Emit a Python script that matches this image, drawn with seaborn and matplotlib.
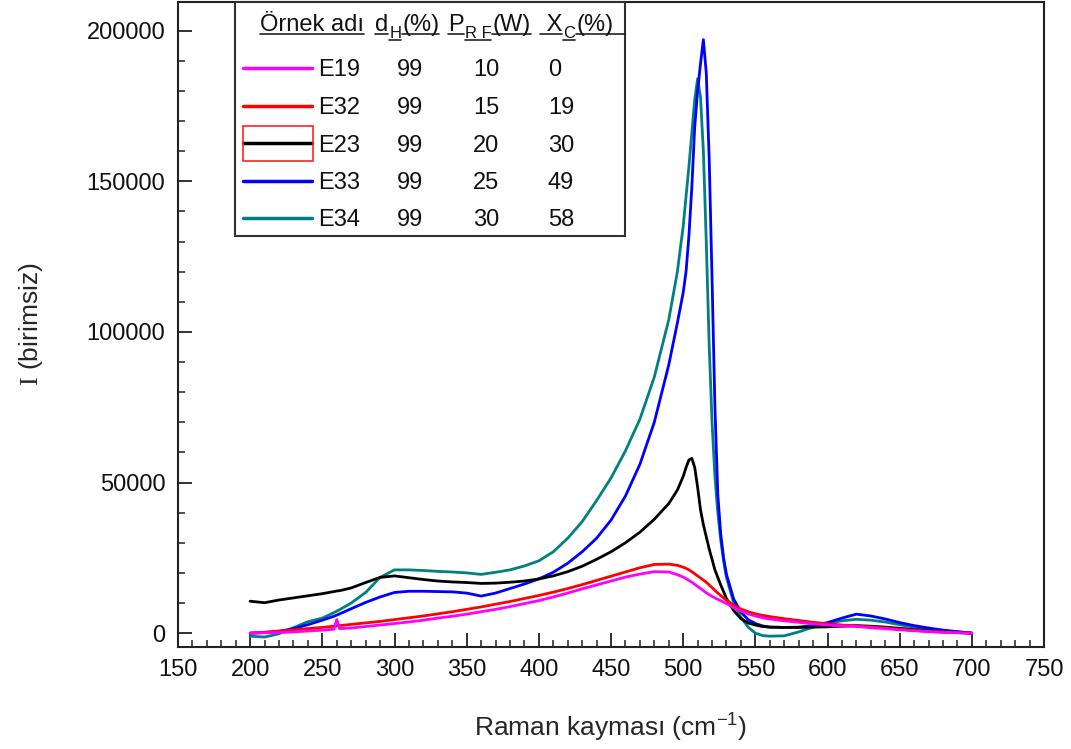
import matplotlib
matplotlib.use("Agg")
import matplotlib.pyplot as plt
import numpy as np
import pandas as pd
import seaborn as sns
from matplotlib.ticker import MultipleLocator, FuncFormatter
from matplotlib.patches import Rectangle
from matplotlib.lines import Line2D

# Raman shift grid (cm^-1) and measured intensities for each sample
wavenumber = [200, 210, 220, 230, 240, 250, 258, 260, 262, 270, 280, 290, 300, 310, 320,
              330, 340, 350, 360, 370, 380, 390, 400, 410, 420, 430, 440, 450, 460, 470,
              480, 490, 496, 500, 502, 504, 506, 508, 510, 512, 514, 516, 518, 520, 522,
              524, 526, 528, 530, 535, 540, 545, 550, 555, 560, 570, 580, 590, 600, 610,
              620, 630, 640, 650, 660, 670, 680, 690, 700]

e19 = [0, 100, 200, 400, 700, 1000, 1300, 4500, 1500, 1700, 2200, 2700, 3200, 3700, 4300,
       5000, 5600, 6300, 7100, 7900, 8800, 9800, 10800, 12000, 13300, 14700, 16000, 17300, 18600, 19600,
       20400, 20300, 19400, 18600, 18100, 17500, 16900, 16200, 15500, 14800, 14100, 13400, 12800, 12200, 11700,
       11200, 10800, 10300, 9800, 8500, 7300, 6400, 5700, 5100, 4700, 4100, 3600, 3100, 2700, 2400,
       2200, 1800, 1500, 1100, 800, 500, 300, 100, 0]

e32 = [0, 300, 700, 1100, 1500, 1900, 2300, 2400, 2500, 2900, 3400, 3900, 4500, 5100, 5700,
       6400, 7100, 7900, 8700, 9600, 10500, 11500, 12500, 13600, 14800, 16100, 17500, 18900, 20300, 21700,
       22800, 22900, 22500, 21900, 21500, 21000, 20400, 19700, 19000, 18300, 17600, 16900, 16000, 15100, 14200,
       13300, 12500, 11700, 10900, 9300, 8000, 7100, 6400, 5900, 5500, 4800, 4200, 3600, 3100, 2700,
       2400, 2100, 1700, 1300, 900, 600, 300, 200, 0]

e23 = [10600, 10100, 11000, 11700, 12400, 13100, 13800, 14000, 14100, 15000, 16800, 18500, 19000, 18400, 17800,
       17300, 17000, 16800, 16500, 16600, 16900, 17300, 18000, 19000, 20400, 22200, 24500, 27000, 30000, 33500,
       37800, 43000, 47500, 52000, 55000, 57500, 58000, 55000, 48500, 41000, 36000, 32000, 28000, 24500, 21000,
       18500, 16000, 13800, 11500, 7500, 4800, 3400, 2700, 2200, 2000, 1900, 1900, 2000, 2100, 2300,
       2500, 2300, 2000, 1600, 1200, 800, 500, 200, 0]

e33 = [0, 200, 600, 1500, 2800, 4300, 5600, 6000, 6400, 8100, 10200, 12000, 13500, 13900, 13900,
       13800, 13700, 13300, 12300, 13300, 14800, 16300, 18000, 20200, 23200, 27000, 31500, 37500, 45500, 56000,
       70000, 89000, 103000, 113000, 120000, 132000, 148000, 168000, 180000, 189000, 197000, 186000, 158000, 118000, 75000,
       46000, 33000, 25000, 19500, 11300, 7000, 4500, 3200, 2400, 2000, 1900, 2000, 2500, 3500, 5000,
       6300, 5700, 4700, 3500, 2500, 1700, 1000, 500, 0]

e34 = [-1000, -1300, -200, 1800, 3800, 5000, 6800, 7300, 7800, 10000, 13500, 18500, 21000, 21000, 20800,
       20500, 20300, 20000, 19500, 20200, 21000, 22300, 24000, 27000, 31500, 37000, 44000, 51500, 60500, 71000,
       85000, 104000, 120000, 135000, 145000, 155000, 166000, 177000, 184000, 178000, 160000, 130000, 96000, 70000, 52000,
       40000, 31000, 24000, 18500, 10000, 5300, 2000, 0, -800, -1000, -900, 400, 2000, 3200, 4100,
       4600, 4300, 3700, 2800, 2000, 1300, 800, 400, 0]

# Sample table shown in the legend box
samples = ["E19", "E32", "E23", "E33", "E34"]
d_h = [99, 99, 99, 99, 99]
p_rf = [10, 15, 20, 25, 30]
x_c = [0, 19, 30, 49, 58]
colors = ["#FF00FF", "#FF0000", "#000000", "#0000FF", "#008080"]

series = dict(zip(samples, [e19, e32, e23, e33, e34]))
df = pd.concat(
    [pd.DataFrame({"wavenumber": wavenumber, "intensity": vals, "sample": name})
     for name, vals in series.items()],
    ignore_index=True,
)

sns.set_theme(style="ticks")
plt.rcParams["font.family"] = ["Liberation Sans", "DejaVu Sans"]
plt.rcParams["mathtext.fontset"] = "custom"
plt.rcParams["mathtext.rm"] = "Liberation Serif"
plt.rcParams["mathtext.sf"] = "Liberation Sans"
plt.rcParams["mathtext.it"] = "Liberation Sans:italic"
plt.rcParams["text.color"] = "#111111"

W, H = 1071, 749
fig = plt.figure(figsize=(W / 100, H / 100), dpi=100)
ax = fig.add_axes([178 / W, (H - 647) / H, (1044 - 178) / W, (647 - 2) / H])

# draw the spectra; the first sample ends up on top
for name, color in reversed(list(zip(samples, colors))):
    sns.lineplot(data=df[df["sample"] == name], x="wavenumber", y="intensity",
                 color=color, lw=2.0, estimator=None, ax=ax, legend=False)

ax.set_xlim(150, 750)
ax.set_ylim(-4600, 209500)
ax.xaxis.set_major_locator(MultipleLocator(50))
ax.xaxis.set_minor_locator(MultipleLocator(10))
ax.yaxis.set_major_locator(MultipleLocator(50000))
ax.yaxis.set_minor_locator(MultipleLocator(10000))
ax.yaxis.set_major_formatter(FuncFormatter(lambda v, p: f"{int(round(v))}"))

for sp in ax.spines.values():
    sp.set_visible(True)
    sp.set_color("#222222")
    sp.set_linewidth(1.5)

ax.tick_params(which="both", direction="in", top=False, right=False,
               colors="#222222", labelcolor="#111111")
ax.tick_params(which="major", length=10, width=1.3, labelsize=17, pad=9)
ax.tick_params(which="minor", length=5, width=1.1)

ax.set_xlabel("Raman kayması (cm$^{\\mathsf{-1}}$)", fontsize=19, labelpad=22)
ax.set_ylabel("$\\mathrm{I}$ (birimsiz)", fontsize=19, labelpad=30)


# ---- legend table (pixel layout helpers) ----
def fx(x):
    return x / W


def fy(y):
    return 1 - y / H


box = Rectangle((fx(235), fy(236)), fx(625) - fx(235), fy(2) - fy(236),
                transform=fig.transFigure, facecolor="white", edgecolor="#303030",
                lw=1.5, zorder=5, clip_on=False)
ax.add_patch(box)

fig.canvas.draw()
renderer = fig.canvas.get_renderer()


def header(x_left, pieces, baseline=31, extend_to=None):
    x = x_left
    for i, (txt, size, dy) in enumerate(pieces):
        t = fig.text(fx(x), fy(baseline + dy), txt, fontsize=size,
                     ha="left", va="baseline", zorder=6)
        bb = t.get_window_extent(renderer)
        x_end = bb.x1
        if extend_to is not None and i == len(pieces) - 1:
            x_end = extend_to
        uy = baseline + dy + (3 if dy == 0 else 2)
        fig.add_artist(Line2D([fx(x), fx(x_end)], [fy(uy), fy(uy)],
                              transform=fig.transFigure, color="#222222",
                              lw=1.2, zorder=6))
        x = bb.x1 + 1


header(260, [("Örnek adı", 17, 0)])
header(375, [("d", 17, 0), ("H", 12, 7), ("(%)", 17, 0)])
header(448, [("P", 17, 0), ("R F", 12, 7), ("(W)", 17, 0)])
header(540, [(" X", 17, 0), ("C", 12, 7), ("(%)", 17, 0)], extend_to=625)

for i, (name, color, dh, prf, xc) in enumerate(zip(samples, colors, d_h, p_rf, x_c)):
    yc = 68 + i * 37.5
    fig.add_artist(Line2D([fx(243), fx(312)], [fy(yc), fy(yc)],
                          transform=fig.transFigure, color=color, lw=2.5, zorder=6))
    base = yc + 8.5
    fig.text(fx(318), fy(base), name, fontsize=17, ha="left", va="baseline", zorder=6)
    fig.text(fx(397), fy(base), str(dh), fontsize=17, ha="left", va="baseline", zorder=6)
    fig.text(fx(473), fy(base), str(prf), fontsize=17, ha="left", va="baseline", zorder=6)
    fig.text(fx(548), fy(base), str(xc), fontsize=17, ha="left", va="baseline", zorder=6)
    if name == "E23":
        fig.add_artist(Rectangle((fx(243), fy(161)), fx(313) - fx(243), fy(126) - fy(161),
                                 transform=fig.transFigure, fill=False,
                                 edgecolor="#FF2020", lw=1.2, zorder=7))

fig.savefig("out.png", dpi=100)
